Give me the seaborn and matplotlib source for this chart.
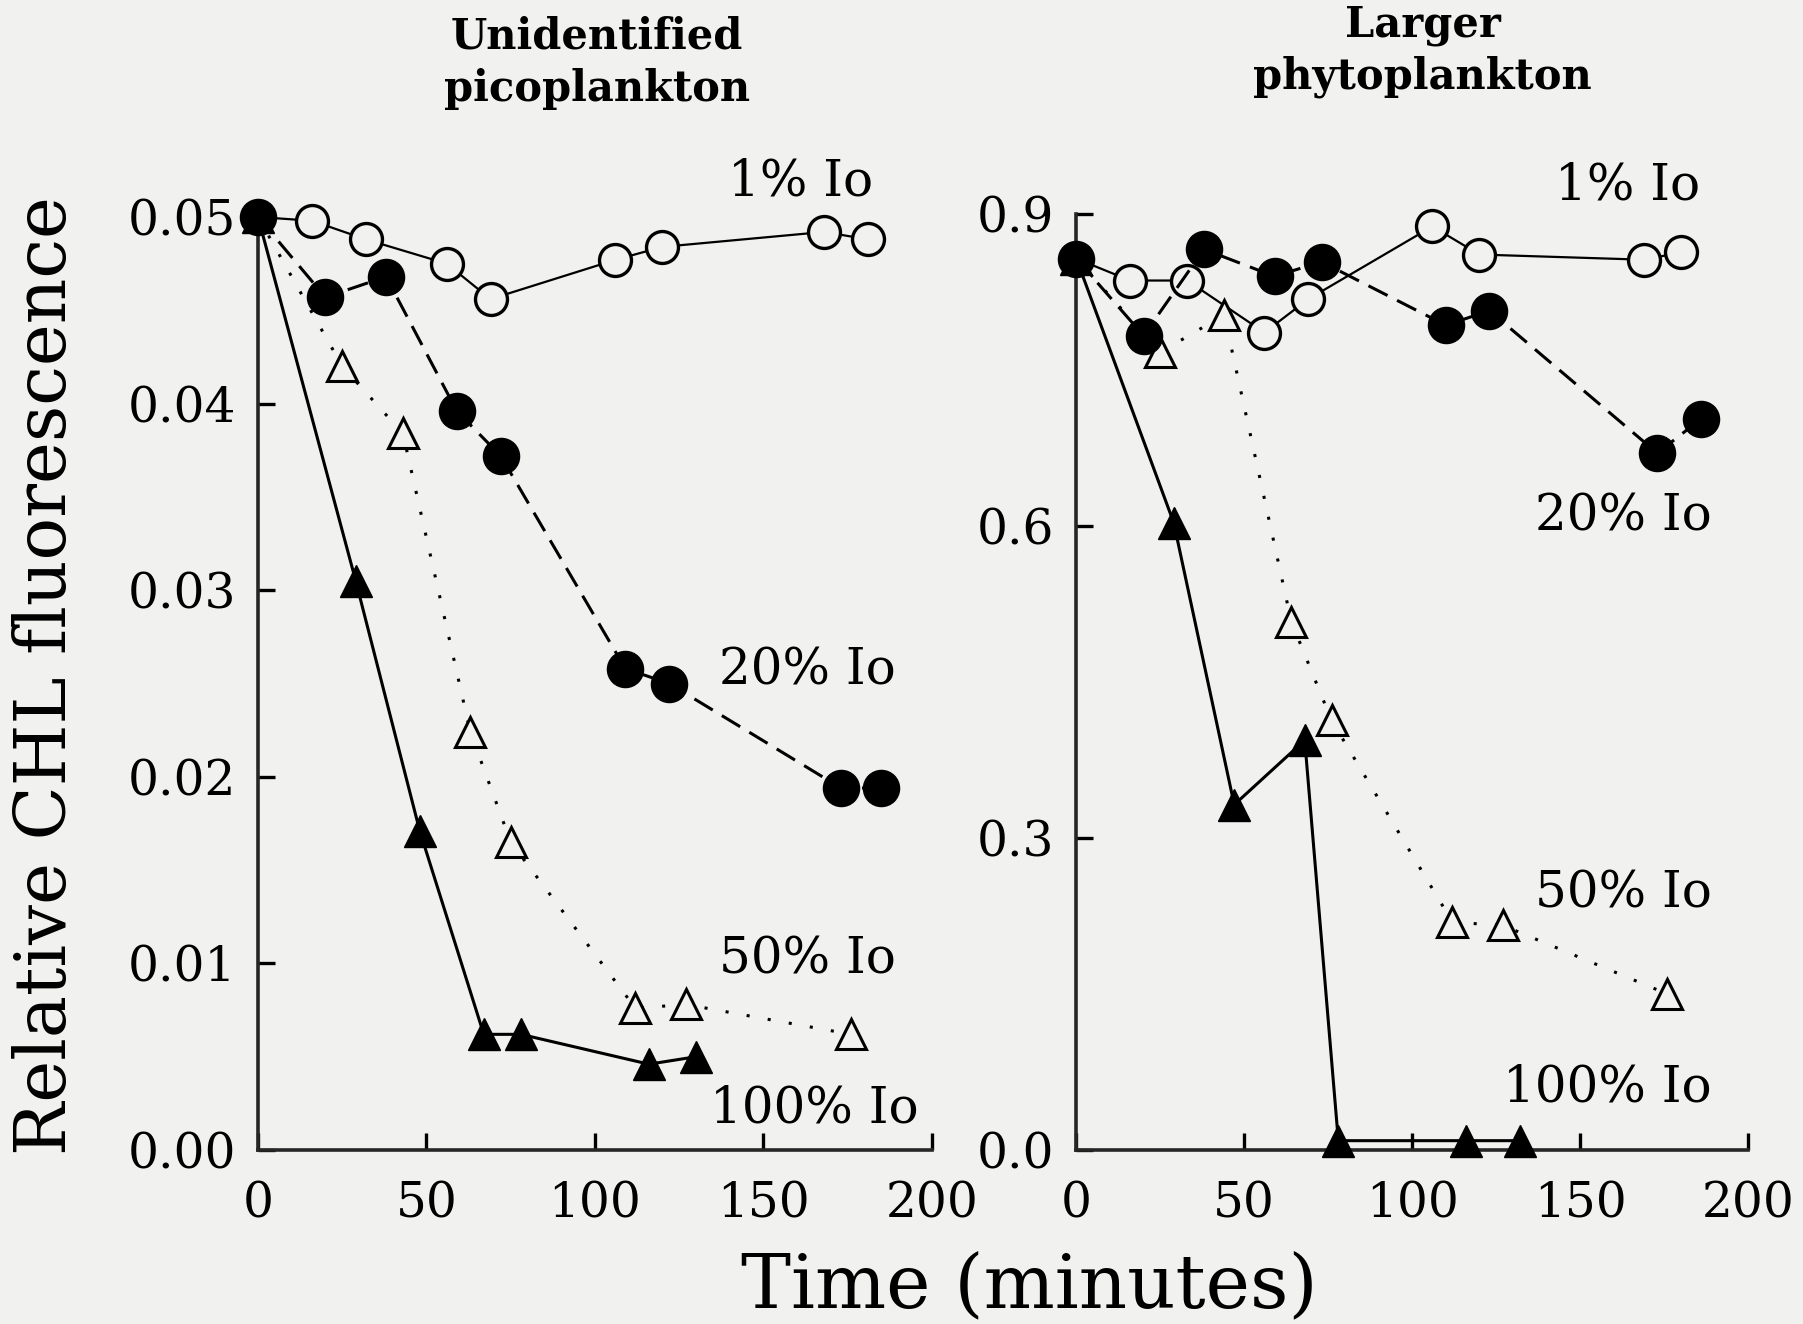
import matplotlib
matplotlib.use("Agg")
import matplotlib.pyplot as plt
import seaborn as sns
import pandas as pd

# ---------------- data ----------------
# Left panel: Unidentified picoplankton
time_left_1 = [0, 16, 32, 56, 69, 106, 120, 168, 181]
val_left_1 = [0.0500, 0.0498, 0.0488, 0.0475, 0.0456, 0.0477, 0.0484, 0.0492, 0.0488]
time_left_20 = [0, 20, 38, 59, 72, 109, 122, 173, 185]
val_left_20 = [0.0500, 0.0457, 0.0468, 0.0396, 0.0372, 0.0258, 0.0250, 0.0194, 0.0194]
time_left_50 = [0, 25, 43, 63, 75, 112, 127, 176]
val_left_50 = [0.0500, 0.0420, 0.0384, 0.0224, 0.0165, 0.0076, 0.0078, 0.0062]
time_left_100 = [0, 29, 48, 67, 78, 116, 130]
val_left_100 = [0.0500, 0.0305, 0.0171, 0.0062, 0.0062, 0.0046, 0.0050]

# Right panel: Larger phytoplankton
time_right_1 = [0, 16, 33, 56, 69, 106, 120, 169, 180]
val_right_1 = [0.857, 0.836, 0.836, 0.786, 0.818, 0.888, 0.861, 0.856, 0.863]
time_right_20 = [0, 20, 38, 59, 73, 110, 123, 173, 186]
val_right_20 = [0.857, 0.783, 0.866, 0.840, 0.854, 0.793, 0.807, 0.670, 0.703]
time_right_50 = [0, 25, 44, 64, 76, 112, 127, 176]
val_right_50 = [0.857, 0.767, 0.803, 0.508, 0.413, 0.219, 0.216, 0.150]
time_right_100 = [0, 29, 47, 68, 78, 116, 132]
val_right_100 = [0.857, 0.603, 0.332, 0.394, 0.009, 0.009, 0.009]

left_yticks = [0.00, 0.01, 0.02, 0.03, 0.04, 0.05]
left_yticklabels = ["0.00", "0.01", "0.02", "0.03", "0.04", "0.05"]
right_yticks = [0.0, 0.3, 0.6, 0.9]
right_yticklabels = ["0.0", "0.3", "0.6", "0.9"]
xticks = [0, 50, 100, 150, 200]

titles = ["Unidentified\npicoplankton", "Larger\nphytoplankton"]
series_labels = ["1% Io", "20% Io", "50% Io", "100% Io"]

# ---------------- style ----------------
BG = "#f1f1f0"
sns.set_theme(style="ticks")
plt.rcParams["font.family"] = ["DejaVu Serif"]
plt.rcParams["axes.linewidth"] = 2.6

fig = plt.figure(figsize=(18.03, 13.24), dpi=100, facecolor=BG)
axL = fig.add_axes([0.1431, 0.1314, 0.3738, 0.7047])
axR = fig.add_axes([0.5970, 0.1314, 0.3725, 0.7070])

styles = {
    "1% Io": dict(linestyle="-", lw=1.6, marker="o", ms=23, mfc=BG, mew=2.4),
    "20% Io": dict(linestyle=(0, (7, 3.5)), lw=2.2, marker="o", ms=26, mfc="black", mew=1.0),
    "50% Io": dict(linestyle=(0, (1, 6)), lw=2.2, marker="^", ms=21, mfc=BG, mew=2.2),
    "100% Io": dict(linestyle="-", lw=2.2, marker="^", ms=23, mfc="black", mew=1.0),
}


def draw(ax, series, ylim, yticks, yticklabels, title, title_xy, label_pos):
    order = ["1% Io", "50% Io", "100% Io", "20% Io"]
    for name in order:
        t, v = series[name]
        df = pd.DataFrame({"t": t, "v": v})
        st = styles[name]
        start = 0 if st["mfc"] == "black" else 1
        sns.lineplot(data=df, x="t", y="v", ax=ax, sort=False, estimator=None,
                     errorbar=None, color="black", linestyle=st["linestyle"],
                     linewidth=st["lw"], marker=st["marker"], markersize=st["ms"],
                     markerfacecolor=st["mfc"], markeredgecolor="black",
                     markeredgewidth=st["mew"], markevery=list(range(start, len(t))),
                     clip_on=False, zorder=3)
    ax.set_xlim(0, 200)
    ax.set_ylim(*ylim)
    ax.set_xticks(xticks)
    ax.set_xticklabels([str(x) for x in xticks])
    ax.set_yticks(yticks)
    ax.set_yticklabels(yticklabels)
    ax.set_xlabel("")
    ax.set_ylabel("")
    ax.set_facecolor(BG)
    for s in ["top", "right"]:
        ax.spines[s].set_visible(False)
    ax.tick_params(direction="in", length=12, width=2.4, labelsize=35,
                   colors="black")
    ax.tick_params(axis="x", pad=22)
    ax.tick_params(axis="y", pad=16)
    for name, (x, y) in label_pos.items():
        ax.text(x, y, name, ha="center", va="center", fontsize=36,
                color="black", clip_on=False)
    fig.text(title_xy[0], title_xy[1], title, ha="center", va="top",
             fontsize=30, fontweight="bold", linespacing=1.3, color="black")


draw(axL,
     {"1% Io": (time_left_1, val_left_1), "20% Io": (time_left_20, val_left_20),
      "50% Io": (time_left_50, val_left_50), "100% Io": (time_left_100, val_left_100)},
     (0, 0.05), left_yticks, left_yticklabels, titles[0], (0.331, 0.988),
     {"1% Io": (161, 0.0519), "20% Io": (163, 0.0257),
      "50% Io": (163, 0.0102), "100% Io": (165, 0.0022)})

draw(axR,
     {"1% Io": (time_right_1, val_right_1), "20% Io": (time_right_20, val_right_20),
      "50% Io": (time_right_50, val_right_50), "100% Io": (time_right_100, val_right_100)},
     (0, 0.9), right_yticks, right_yticklabels, titles[1], (0.789, 0.997),
     {"1% Io": (164, 0.927), "20% Io": (163, 0.609),
      "50% Io": (163, 0.246), "100% Io": (158, 0.060)})

fig.text(0.026, 0.49, "Relative CHL fluorescence", rotation=90, ha="center",
         va="center", fontsize=51, color="black")
fig.text(0.571, 0.028, "Time (minutes)", ha="center", va="center",
         fontsize=54, color="black")

fig.savefig("out.png", dpi=100, facecolor=BG)
